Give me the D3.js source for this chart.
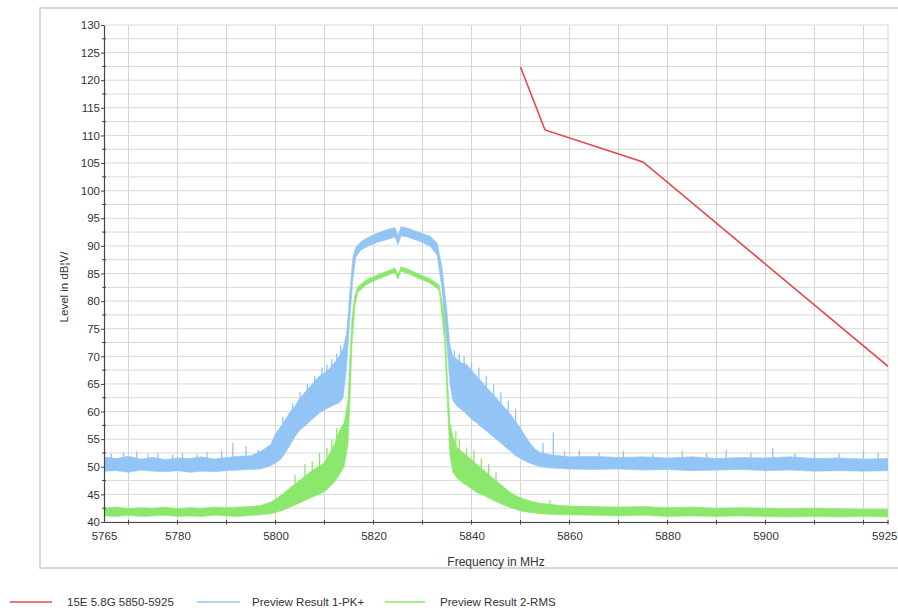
<!DOCTYPE html>
<html><head><meta charset="utf-8">
<script src="https://cdn.jsdelivr.net/npm/d3@7"></script>
<style>
body{margin:0;background:#fff}
svg{display:block}
text{font-family:"Liberation Sans",Arial,sans-serif;fill:#333}
</style>
</head><body>
<svg id="c" width="898" height="612"></svg>
<script>
// ---------- data ----------
const freqTicks = [5765,5780,5800,5820,5840,5860,5880,5900,5925];
const levelTicks = [40,45,50,55,60,65,70,75,80,85,90,95,100,105,110,115,120,125,130];
const seriesNames = ["15E 5.8G 5850-5925","Preview Result 1-PK+","Preview Result 2-RMS"];

const limitFreq  = [5850,5855,5875,5925];
const limitLevel = [122.4,111.0,105.2,68.2];

const pkFreq = [5765,5767.5,5770,5772.5,5775,5777.5,5780,5782.5,5785,5787.5,5790,5792.5,5795,5797,5799,
 5800,5801,5802,5803,5804,5805,5806,5807,5808,5809,5810,5811,5812,5813,
 5813.8,5814.5,5815.2,5815.8,5816.4,
 5817.5,5819,5821,5823,5824.4,5825,5825.6,5827,5829.5,5831.5,5833,
 5834,5835,5835.6,5836.2,
 5837,5838,5839,5840,5841,5842,5843,5844,5845,5846,5847,5848,5849,5850,5851,5852,5853,5854,
 5856,5858,5860,
 5865,5870,5875,5880,5885,5890,5895,5900,5905,5910,5915,5920,5925];
const pkLo = [49.2,49.3,49.0,49.4,49.2,49.1,49.3,49.0,49.2,49.1,49.3,49.4,49.5,49.6,50.2,
 50.7,51.3,52.5,54.0,55.5,56.7,57.4,58.2,59.0,59.8,60.3,60.8,61.2,61.6,
 62.5,68,77,84,88,
 89.3,90.0,90.7,91.2,91.6,90.2,91.8,91.6,90.8,90.0,88.3,
 82,72,65,62.0,
 61.0,60.3,59.5,58.6,58.0,57.2,56.5,55.8,55.0,54.3,53.5,52.8,52.0,51.5,51.0,50.6,50.3,50.0,
 49.8,49.7,49.6,
 49.5,49.6,49.4,49.5,49.3,49.4,49.5,49.3,49.4,49.2,49.3,49.2,49.3];
const pkHi = [51.8,51.5,51.9,51.4,51.7,51.3,51.6,51.5,51.8,51.4,51.7,51.9,52.0,52.8,54.0,
 56.0,57.2,58.5,60.0,61.0,62.5,63.5,64.5,65.5,66.5,67.0,67.8,68.8,70.0,
 71.5,74,82,88,89.8,
 90.8,91.6,92.4,93.0,93.3,91.8,93.5,93.2,92.4,91.8,90.5,
 86,78,72,70.0,
 69.5,68.8,68.5,67.5,66.5,65.5,64.5,63.5,62.5,61.5,60.5,59.5,58.2,57.0,55.5,54.2,53.2,52.6,
 52.2,52.0,51.8,
 51.9,51.7,51.8,51.6,51.8,51.5,51.7,51.6,51.8,51.5,51.6,51.4,51.5];

const rmsFreq = [5765,5767.5,5770,5772.5,5775,5777.5,5780,5782.5,5785,5787.5,5790,5792.5,5795,5797,5799,
 5800,5801,5802,5803,5804,5805,5806,5807,5808,5809,5810,5811,5812,5813,5814,
 5814.8,5815.2,5815.6,5816.2,5816.8,
 5818.6,5821,5823,5824.4,5825,5825.6,5827,5829.5,5831.5,5833.4,
 5834.5,5835.1,5835.6,5836.2,
 5837,5838,5839,5840,5841,5842,5843,5844,5845,5846,5847,5848,5849,5850,
 5852,5854,5856,5858,5860,
 5865,5870,5875,5880,5885,5890,5895,5900,5905,5910,5915,5920,5925];
const rmsLo = [41.1,41.0,41.2,41.0,41.1,41.2,41.0,41.1,41.0,41.2,41.1,41.0,41.2,41.3,41.5,
 41.7,42.0,42.3,42.7,43.1,43.5,43.9,44.3,44.7,45.1,45.5,46.3,47.2,48.5,50.0,
 54,62,72,79,81.6,
 83.0,84.0,84.7,85.2,84.0,85.4,85.0,84.0,83.3,82.0,
 73,61,52,49.0,
 48.0,47.2,46.6,46.0,45.4,45.0,44.6,44.1,43.7,43.3,42.9,42.6,42.3,42.0,
 41.7,41.5,41.4,41.3,41.3,
 41.2,41.1,41.2,41.0,41.1,41.0,41.1,41.0,40.9,41.0,40.9,41.0,40.9];
const rmsHi = [42.5,42.7,42.4,42.6,42.5,42.7,42.4,42.6,42.5,42.7,42.6,42.7,42.8,43.0,43.6,
 44.1,44.8,45.5,46.2,46.9,47.6,48.3,49.0,49.6,50.2,50.8,52.3,54.0,56.5,58.0,
 62,70,77,81,82.6,
 83.9,84.8,85.5,86.0,84.8,86.2,85.8,84.8,84.1,82.9,
 77,66,58,55.5,
 53.5,52.8,52.0,51.3,50.5,49.8,49.0,48.2,47.5,46.8,46.0,45.3,44.8,44.4,
 43.8,43.4,43.2,43.0,42.9,
 42.8,42.7,42.8,42.6,42.7,42.5,42.6,42.5,42.4,42.5,42.4,42.3,42.3];

// isolated noise spikes
const pkSpikeFreq  = [5766.5,5769,5771.7,5774,5776,5779,5781,5784,5786,5789,5791.3,5794,5796.5,
 5801.5,5803.5,5805,5806.5,5808,5809.5,5810.5,5811.5,5812.5,5813.3,
 5836.5,5837.5,5838.5,5840,5841.5,5843,5844.5,5846,5847.5,5849,
 5854.6,5856.7,5859,5862,5866,5871,5877,5883,5888,5892,5897,5901.5,5906,5910,5915,5920,5923];
const pkSpikeLevel = [52.4,52.6,52.8,52.3,52.4,52.2,52.5,52.3,52.7,52.9,54.3,53.7,53.1,
 59.0,61.5,63.5,65.0,66.5,68.0,68.5,69.5,70.5,72.0,
 71.0,70.5,70.0,69.0,68.0,66.5,65.0,63.5,62.0,60.5,
 54.3,56.2,52.8,53.0,52.6,52.8,52.4,52.9,52.5,53.1,52.6,53.4,52.5,52.7,52.4,53.0,52.5];
const rmsSpikeFreq  = [5804,5806,5807.5,5809,5810.5,5811.5,5812.5,5836.8,5837.5,5839,5840.5,5842,5843.5,5845,5856];
const rmsSpikeLevel = [48.5,50.5,51.0,52.5,53.5,55.0,57.0,56.5,55.0,53.5,53.0,51.5,50.5,49.0,44.0];

// ---------- layout / style ----------
const colors = ["#e2474b","#92c4f6","#8ce86c"];
const plot = {l:104, t:25, r:888, b:522};

const x = d3.scaleLinear().domain([5765,5925]).range([plot.l, plot.r]);
const y = d3.scaleLinear().domain([40,130]).range([plot.b, plot.t]);
const svg = d3.select("#c");

// outer frame
svg.append("rect").attr("x",40).attr("y",8).attr("width",880).attr("height",560)
  .attr("fill","#fff").attr("stroke","#cdcdcd").attr("stroke-width",1.5);

// grid
const grid = svg.append("g");
grid.selectAll("line.h").data(d3.range(40,130.01,2.5)).join("line")
  .attr("x1",plot.l).attr("x2",plot.r).attr("y1",d=>y(d)).attr("y2",d=>y(d))
  .attr("stroke","#d9d9d9").attr("stroke-width",1);
grid.selectAll("line.v").data(d3.range(5770,5921,10).concat([5925])).join("line")
  .attr("y1",plot.t).attr("y2",plot.b).attr("x1",d=>x(d)).attr("x2",d=>x(d))
  .attr("stroke","#d4d4d4").attr("stroke-width",1);

svg.append("defs").append("clipPath").attr("id","clip").append("rect")
  .attr("x",plot.l).attr("y",plot.t).attr("width",plot.r-plot.l).attr("height",plot.b-plot.t);
const g = svg.append("g").attr("clip-path","url(#clip)");

function band(fr, lo, hi){ return fr.map((f,i)=>({f, lo:lo[i], hi:hi[i]})); }
const area = d3.area().x(d=>x(d.f)).y0(d=>y(d.lo)).y1(d=>y(d.hi));

const pk = band(pkFreq,pkLo,pkHi);
const rms = band(rmsFreq,rmsLo,rmsHi);

// spike base: band top at the nearest listed frequency
function baseAt(fr, hi, f){
  const i = d3.minIndex(fr, v=>Math.abs(v-f));
  return hi[i] - 0.6;
}
function drawSpikes(fr, hi, sf, sv, col){
  g.append("g").selectAll("line").data(sf.map((f,i)=>({f, v:sv[i]}))).join("line")
    .attr("x1",d=>x(d.f)).attr("x2",d=>x(d.f))
    .attr("y1",d=>y(Math.min(baseAt(fr,hi,d.f), d.v-0.5))).attr("y2",d=>y(d.v))
    .attr("stroke",col).attr("stroke-width",1.3);
}

g.append("path").datum(pk).attr("d",area).attr("fill",colors[1]).attr("stroke",colors[1]).attr("stroke-width",0.6);
drawSpikes(pkFreq, pkHi, pkSpikeFreq, pkSpikeLevel, colors[1]);

g.append("path").datum(rms).attr("d",area).attr("fill",colors[2]).attr("stroke",colors[2]).attr("stroke-width",0.6);
drawSpikes(rmsFreq, rmsHi, rmsSpikeFreq, rmsSpikeLevel, colors[2]);

const line = d3.line().x(d=>x(d[0])).y(d=>y(d[1]));
g.append("path").datum(limitFreq.map((f,i)=>[f,limitLevel[i]])).attr("d",line)
  .attr("fill","none").attr("stroke",colors[0]).attr("stroke-width",1.6);

// axes
const yAx = svg.append("g").attr("transform",`translate(${plot.l},0)`)
  .call(d3.axisLeft(y).tickValues(levelTicks).tickSizeInner(3).tickSizeOuter(0).tickPadding(1));
yAx.selectAll("text").attr("font-size","11.5px").attr("font-family","Liberation Sans, Arial, sans-serif").attr("fill","#333");
yAx.selectAll("line").attr("stroke","#444");
yAx.select(".domain").attr("stroke","#444").attr("stroke-width",1.2);
svg.append("g").selectAll("line").data(d3.range(42.5,130,5)).join("line")
  .attr("x1",plot.l-2).attr("x2",plot.l+2).attr("y1",d=>y(d)).attr("y2",d=>y(d))
  .attr("stroke","#444");

const xAx = svg.append("g").attr("transform",`translate(0,${plot.b})`)
  .call(d3.axisBottom(x).tickValues(freqTicks).tickFormat(d3.format("d")).tickSize(0).tickPadding(10));
xAx.selectAll("text").attr("font-size","11.5px").attr("font-family","Liberation Sans, Arial, sans-serif").attr("fill","#333");
xAx.selectAll(".tick").filter(d=>d===5925).select("text").attr("text-anchor","end").attr("x",897-plot.r);
xAx.select(".domain").attr("stroke","#444").attr("stroke-width",1.2);
svg.append("g").selectAll("line").data(d3.range(5770,5921,10).concat([5925])).join("line")
  .attr("x1",d=>x(d)).attr("x2",d=>x(d)).attr("y1",plot.b-2).attr("y2",plot.b+2.5)
  .attr("stroke","#444");

// titles
svg.append("text").attr("x",(plot.l+plot.r)/2).attr("y",566).attr("text-anchor","middle")
  .attr("font-size","12px").text("Frequency in MHz");
svg.append("text").attr("transform","translate(68,287) rotate(-90)").attr("text-anchor","middle")
  .attr("font-size","11.5px").text("Level in dB\u00A6V/");

// legend
const legendPos = [{x0:10,x1:52,tx:67},{x0:197,x1:240,tx:252},{x0:385,x1:425,tx:440}];
const lg = svg.append("g");
seriesNames.forEach((n,i)=>{
  lg.append("line").attr("x1",legendPos[i].x0).attr("x2",legendPos[i].x1).attr("y1",602).attr("y2",602)
    .attr("stroke",colors[i]).attr("stroke-width",1.5);
  lg.append("text").attr("x",legendPos[i].tx).attr("y",606).attr("font-size","11.5px").text(n);
});
</script>
</body></html>
